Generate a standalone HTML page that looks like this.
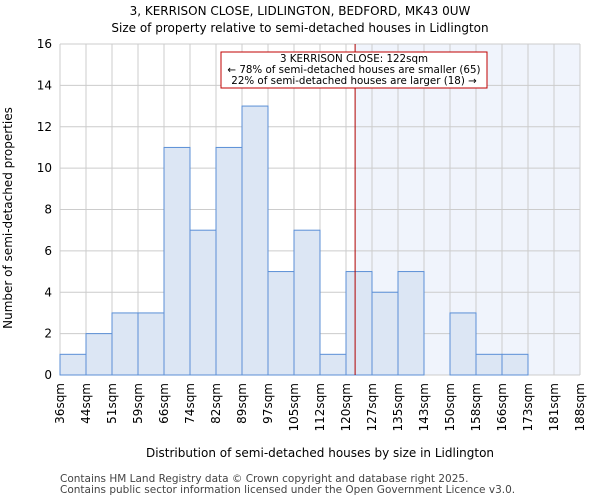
<!DOCTYPE html>
<html><head><meta charset="utf-8"><style>
body{margin:0;background:#fff;font-family:"DejaVu Sans","Liberation Sans",sans-serif;}
svg text{font-family:"DejaVu Sans","Liberation Sans",sans-serif;}
</style></head><body>
<svg id="chart" width="600" height="500" xmlns="http://www.w3.org/2000/svg">
<text x="300" y="15" text-anchor="middle" font-size="12">3, KERRISON CLOSE, LIDLINGTON, BEDFORD, MK43 0UW</text>
<text x="300" y="32" text-anchor="middle" font-size="12">Size of property relative to semi-detached houses in Lidlington</text>
<g id="plot"></g>
<text x="320" y="457" text-anchor="middle" font-size="12">Distribution of semi-detached houses by size in Lidlington</text>
<text transform="translate(12,218) rotate(-90)" text-anchor="middle" font-size="12">Number of semi-detached properties</text>
<text x="60" y="482" font-size="10.5" fill="#444">Contains HM Land Registry data © Crown copyright and database right 2025.</text>
<text x="60" y="493" font-size="10.5" fill="#444">Contains public sector information licensed under the Open Government Licence v3.0.</text>
</svg>
<script>
const binLabels=["36sqm","44sqm","51sqm","59sqm","66sqm","74sqm","82sqm","89sqm","97sqm","105sqm","112sqm","120sqm","127sqm","135sqm","143sqm","150sqm","158sqm","166sqm","173sqm","181sqm","188sqm"];
const counts=[1,2,3,3,11,7,11,13,5,7,1,5,4,5,0,3,1,1,0,0];
const yTicks=[0,2,4,6,8,10,12,14,16];
const markerBin=11.35;
const NS="http://www.w3.org/2000/svg";
const g=document.getElementById('plot');
const L=60,R=580,T=44,B=375,yMax=16;
const nb=counts.length;
const xs=i=>L+i*(R-L)/nb;
const ys=v=>B-v*(B-T)/yMax;
function mk(t,a){const e=document.createElementNS(NS,t);for(const k in a)e.setAttribute(k,a[k]);g.appendChild(e);return e;}
let e;
e=mk('rect',{x:xs(markerBin),y:T,width:R-xs(markerBin),height:B-T,fill:'#f0f4fc'});


for(let i=0;i<=nb;i++){e=mk('line',{x1:xs(i),x2:xs(i),y1:T,y2:B,stroke:'#ccc','stroke-width':1});

}
for(let v=0;v<=yMax;v+=2){e=mk('line',{x1:L,x2:R,y1:ys(v),y2:ys(v),stroke:'#ccc','stroke-width':1});

}
counts.forEach((c,i)=>{if(c<=0)return;e=mk('rect',{x:xs(i),y:ys(c),width:xs(i+1)-xs(i),height:B-ys(c),fill:'#dce6f4',stroke:'#5b8fd6','stroke-width':1});

});
yTicks.forEach(v=>{e=mk('text',{x:L-8,y:ys(v)+4,'text-anchor':'end','font-size':12});e.textContent=v;

});
binLabels.forEach((s,i)=>{e=mk('text',{transform:`translate(${xs(i)+4},383) rotate(-90)`,'text-anchor':'end','font-size':12});e.textContent=s;

});
e=mk('line',{x1:xs(markerBin),x2:xs(markerBin),y1:T,y2:B,stroke:'#b00000','stroke-width':1});


e=mk('rect',{x:221,y:52,width:266,height:36,fill:'#fff',stroke:'#c00000','stroke-width':1});


["3 KERRISON CLOSE: 122sqm","← 78% of semi-detached houses are smaller (65)","22% of semi-detached houses are larger (18) →"].forEach((t,i)=>{e=mk('text',{x:354,y:62+i*11,'text-anchor':'middle','font-size':10.3});e.textContent=t;

});
</script>
</body></html>
